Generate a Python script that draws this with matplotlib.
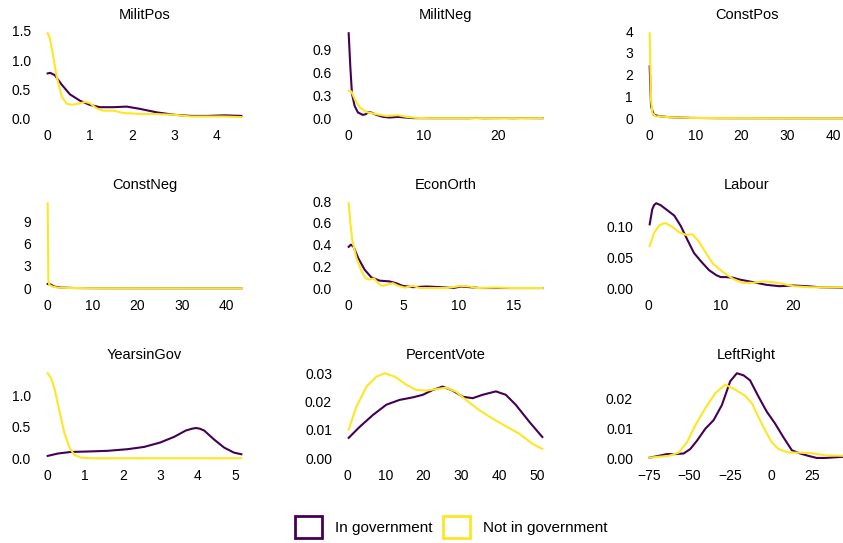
import matplotlib
matplotlib.use("Agg")
import matplotlib.pyplot as plt
from matplotlib.patches import Patch

plt.rcParams["font.family"] = ["Liberation Sans", "DejaVu Sans"]

IN_GOV = "#440154"
NOT_GOV = "#FDE725"

# density curves, one pair of lists per variable and group
militpos_in_x = [0, 0.06, 0.17, 0.33, 0.53, 0.77, 1.0, 1.24, 1.56, 1.88, 2.2, 2.6, 3.0, 3.4, 3.8, 4.2, 4.6]
militpos_in_y = [0.77, 0.78, 0.74, 0.58, 0.41, 0.30, 0.23, 0.19, 0.19, 0.20, 0.16, 0.10, 0.06, 0.04, 0.04, 0.05, 0.04]
militpos_out_x = [0, 0.05, 0.1, 0.21, 0.33, 0.45, 0.57, 0.73, 0.89, 1.0, 1.16, 1.32, 1.56, 1.8, 2.2, 2.6, 3.0, 3.4, 3.8, 4.2, 4.6]
militpos_out_y = [1.46, 1.38, 1.19, 0.73, 0.38, 0.25, 0.23, 0.25, 0.28, 0.26, 0.17, 0.13, 0.13, 0.09, 0.075, 0.07, 0.06, 0.03, 0.03, 0.03, 0.02]

militneg_in_x = [0, 0.22, 0.44, 0.8, 1.24, 1.9, 2.3, 2.6, 3.0, 3.7, 4.6, 5.5, 6.6, 7.5, 8.6, 12, 16, 17, 18, 21, 22, 23, 25.9]
militneg_in_y = [1.11, 0.67, 0.32, 0.16, 0.075, 0.044, 0.053, 0.08, 0.075, 0.044, 0.018, 0.01, 0.018, 0.01, 0.002,
                 0.001, 0.001, 0.004, 0.001, 0.003, 0.001, 0.003, 0.001]
militneg_out_x = [0, 0.36, 0.8, 1.5, 2.4, 3.7, 5.0, 6.6, 7.7, 9.0, 10.8, 15, 20, 25.9]
militneg_out_y = [0.36, 0.35, 0.25, 0.14, 0.08, 0.053, 0.03, 0.04, 0.018, 0.005, 0.001, 0.001, 0.001, 0.001]

constpos_in_x = [0, 0.3, 0.9, 2.0, 4.2, 9, 15, 25, 35, 42.2]
constpos_in_y = [2.38, 0.54, 0.15, 0.10, 0.05, 0.015, 0.005, 0.003, 0.002, 0.002]
constpos_out_x = [0, 0.3, 0.58, 1.3, 2.0, 4.2, 9, 15, 25, 35, 42.2]
constpos_out_y = [3.9, 0.84, 0.23, 0.08, 0.09, 0.05, 0.015, 0.008, 0.005, 0.003, 0.002]

constneg_in_x = [0, 0.7, 1.5, 3.0, 6, 12, 20, 30, 43.3]
constneg_in_y = [0.58, 0.49, 0.22, 0.09, 0.03, 0.01, 0.005, 0.003, 0.002]
constneg_out_x = [0, 0.15, 0.37, 1.1, 2.2, 4.4, 10, 20, 30, 43.3]
constneg_out_y = [11.4, 1.1, 0.45, 0.22, 0.09, 0.04, 0.01, 0.005, 0.003, 0.002]

econorth_in_x = [0, 0.2, 0.45, 0.85, 1.45, 2.06, 2.8, 3.7, 4.3, 4.9, 5.85, 7.1, 8.3, 9.5, 10.2, 11.0, 11.9, 15, 17.6]
econorth_in_y = [0.38, 0.40, 0.38, 0.28, 0.17, 0.10, 0.07, 0.063, 0.047, 0.022, 0.01, 0.016, 0.01, 0.002, 0.016,
                 0.01, 0.002, 0.002, 0.002]
econorth_out_x = [0, 0.15, 0.33, 0.7, 1.15, 1.55, 1.9, 2.3, 2.67, 3.0, 3.4, 4.0, 4.5, 5.1, 5.85, 6.45, 7.4, 8.9,
                  9.5, 10.2, 11.0, 11.6, 13.4, 15, 17.6]
econorth_out_y = [0.78, 0.6, 0.44, 0.28, 0.16, 0.09, 0.08, 0.09, 0.047, 0.022, 0.03, 0.047, 0.022, 0.006, 0.022,
                  0.002, 0.002, 0.002, 0.01, 0.022, 0.016, 0.002, 0.006, 0.002, 0.002]

labour_in_x = [0.2, 0.55, 0.8, 1.1, 1.7, 2.6, 3.6, 4.5, 5.4, 6.3, 7.3, 8.4, 9.4, 10.0, 10.7, 11.7, 12.6, 14.4, 16.3,
               18.1, 20.0, 21.9, 23.7, 26.9]
labour_in_y = [0.103, 0.127, 0.134, 0.137, 0.134, 0.126, 0.117, 0.100, 0.078, 0.057, 0.043, 0.029, 0.021, 0.018,
               0.018, 0.017, 0.014, 0.010, 0.0055, 0.0033, 0.0044, 0.0033, 0.0016, 0.001]
labour_out_x = [0.2, 0.8, 1.5, 2.0, 2.4, 3.3, 4.3, 5.2, 6.1, 7.0, 8.0, 8.9, 10.3, 11.7, 13.0, 14.4, 15.8, 17.2, 18.6,
                20.0, 22.3, 24.6, 26.9]
labour_out_y = [0.068, 0.089, 0.101, 0.104, 0.105, 0.099, 0.090, 0.086, 0.087, 0.075, 0.056, 0.040, 0.026, 0.015,
                0.0087, 0.0087, 0.011, 0.0098, 0.007, 0.0033, 0.0016, 0.0016, 0.0016]

years_in_x = [0, 0.27, 0.62, 1.06, 1.6, 2.13, 2.57, 3.0, 3.37, 3.68, 3.85, 3.95, 4.05, 4.17, 4.43, 4.7, 4.96, 5.16]
years_in_y = [0.037, 0.075, 0.10, 0.107, 0.118, 0.144, 0.18, 0.25, 0.34, 0.44, 0.47, 0.48, 0.47, 0.44, 0.30, 0.17,
              0.09, 0.064]
years_out_x = [0, 0.09, 0.18, 0.31, 0.44, 0.58, 0.71, 0.89, 1.15, 2.0, 3.0, 4.0, 5.16]
years_out_y = [1.35, 1.27, 1.11, 0.76, 0.41, 0.17, 0.053, 0.011, 0.0, 0.0, 0.0, 0.0, 0.0]

vote_in_x = [0.4, 3.3, 6.8, 10.3, 13.8, 17.3, 19.9, 22.5, 25.1, 27.7, 30.4, 33.0, 35.6, 39.1, 41.7, 44.3, 47.8, 51.3]
vote_in_y = [0.0072, 0.0111, 0.0153, 0.0189, 0.0206, 0.0215, 0.0224, 0.0241, 0.0253, 0.0239, 0.0217, 0.0212,
             0.0224, 0.0236, 0.0224, 0.0189, 0.0130, 0.0075]
vote_out_x = [0.4, 2.4, 5.1, 7.7, 9.9, 12.5, 15.6, 18.2, 20.8, 23.4, 26.0, 28.6, 31.3, 34.7, 38.2, 41.7, 45.2,
              48.7, 51.3]
vote_out_y = [0.0101, 0.0181, 0.0253, 0.0288, 0.0300, 0.0288, 0.0259, 0.0241, 0.0239, 0.0244, 0.0249, 0.0235,
              0.0205, 0.0170, 0.0140, 0.0113, 0.0087, 0.0051, 0.0033]

lr_in_x = [-74.4, -68.9, -63.8, -58.7, -53.6, -49.5, -45.4, -40.3, -35.2, -30.1, -25.0, -20.9, -16.8, -12.8, -7.7,
           -2.6, 2.5, 7.6, 12.8, 17.9, 23.0, 28.1, 33.2, 44.4]
lr_in_y = [0.0002, 0.0008, 0.0014, 0.0014, 0.0016, 0.0031, 0.0059, 0.0099, 0.0128, 0.0179, 0.0259, 0.0286, 0.0279,
           0.0262, 0.0208, 0.0157, 0.0117, 0.0071, 0.0027, 0.0016, 0.0008, 0.0001, 0.0001, 0.0005]
lr_out_x = [-74.4, -68.9, -62.8, -56.6, -51.5, -46.4, -40.3, -34.1, -28.0, -21.9, -15.8, -11.7, -7.7, -3.6, 0.5,
            4.6, 10.7, 16.8, 25.0, 33.2, 44.4]
lr_out_y = [0.0002, 0.0005, 0.0008, 0.0019, 0.0054, 0.0111, 0.0168, 0.0219, 0.0248, 0.0231, 0.0210, 0.0185,
            0.0139, 0.0094, 0.0054, 0.0031, 0.0019, 0.0019, 0.0017, 0.0010, 0.0008]

titles = ["MilitPos", "MilitNeg", "ConstPos", "ConstNeg", "EconOrth", "Labour",
          "YearsinGov", "PercentVote", "LeftRight"]

x_ticks = [[0, 1, 2, 3, 4], [0, 10, 20], [0, 10, 20, 30, 40],
           [0, 10, 20, 30, 40], [0, 5, 10, 15], [0, 10, 20],
           [0, 1, 2, 3, 4, 5], [0, 10, 20, 30, 40, 50], [-75, -50, -25, 0, 25]]
y_ticks = [[0.0, 0.5, 1.0, 1.5], [0.0, 0.3, 0.6, 0.9], [0, 1, 2, 3, 4],
           [0, 3, 6, 9], [0.0, 0.2, 0.4, 0.6, 0.8], [0.00, 0.05, 0.10],
           [0.0, 0.5, 1.0], [0.00, 0.01, 0.02, 0.03], [0.00, 0.01, 0.02]]
y_fmt = ["{:.1f}", "{:.1f}", "{:.0f}", "{:.0f}", "{:.1f}", "{:.2f}", "{:.1f}", "{:.2f}", "{:.2f}"]

curves = [
    (militpos_in_x, militpos_in_y, militpos_out_x, militpos_out_y),
    (militneg_in_x, militneg_in_y, militneg_out_x, militneg_out_y),
    (constpos_in_x, constpos_in_y, constpos_out_x, constpos_out_y),
    (constneg_in_x, constneg_in_y, constneg_out_x, constneg_out_y),
    (econorth_in_x, econorth_in_y, econorth_out_x, econorth_out_y),
    (labour_in_x, labour_in_y, labour_out_x, labour_out_y),
    (years_in_x, years_in_y, years_out_x, years_out_y),
    (vote_in_x, vote_in_y, vote_out_x, vote_out_y),
    (lr_in_x, lr_in_y, lr_out_x, lr_out_y),
]

W, H = 843, 543
fig = plt.figure(figsize=(W / 100, H / 100), dpi=100)

for i, (title, (xi, yi, xo, yo)) in enumerate(zip(titles, curves)):
    r, c = divmod(i, 3)
    left, top = 38 + 301 * c, 29 + 170 * r
    ax = fig.add_axes([left / W, 1 - (top + 93.5) / H, 213 / W, 93.5 / H])
    ax.plot(xi, yi, color=IN_GOV, lw=1.5, solid_joinstyle="round")
    ax.plot(xo, yo, color=NOT_GOV, lw=1.5, solid_joinstyle="round")

    # ggplot-like 5% expansion around the data
    x0, x1 = min(xi + xo), max(xi + xo)
    ymax = max(yi + yo)
    ax.set_xlim(x0 - 0.05 * (x1 - x0), x1 + 0.05 * (x1 - x0))
    ax.set_ylim(-0.05 * ymax, 1.05 * ymax)

    ax.set_xticks(x_ticks[i])
    ax.set_xticklabels([str(v).replace("-", "\u2212") for v in x_ticks[i]])
    ax.set_yticks(y_ticks[i])
    ax.set_yticklabels([y_fmt[i].format(v) for v in y_ticks[i]])
    ax.tick_params(length=0, pad=5, labelsize=10, colors="black")
    for s in ax.spines.values():
        s.set_visible(False)
    ax.set_title(title, fontsize=10.5, pad=7)

handles = [Patch(facecolor="white", edgecolor=IN_GOV, lw=2, label="In government"),
           Patch(facecolor="white", edgecolor=NOT_GOV, lw=2, label="Not in government")]
fig.legend(handles=handles, loc="center", bbox_to_anchor=(0.535, 0.029), ncol=2, frameon=False,
           fontsize=11, handlelength=1.8, handleheight=1.8, handletextpad=0.8, columnspacing=0.7)

fig.savefig("out.png", dpi=100)
